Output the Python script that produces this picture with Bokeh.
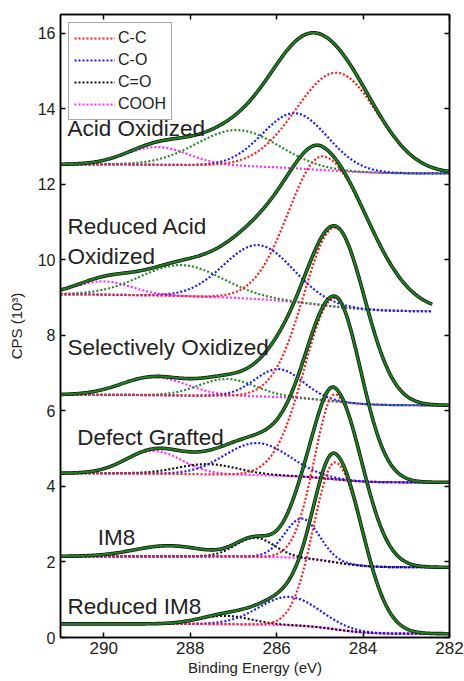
import numpy as np
from bokeh.plotting import figure
from bokeh.models import Range1d, LinearAxis, FixedTicker, Legend, LegendItem, ColumnDataSource
from bokeh.embed import file_html
from bokeh.resources import INLINE
from bokeh.core.properties import value

# ---------------- data ----------------
energy_ticks = [290, 288, 286, 284, 282]
cps_ticks = [0, 2, 4, 6, 8, 10, 12, 14, 16]
components = ["C-C", "C-O", "C=O", "COOH"]
samples = ["Acid Oxidized", "Reduced Acid Oxidized", "Selectively Oxidized",
           "Defect Grafted", "IM8", "Reduced IM8"]
energy_start = [291.0, 291.0, 291.0, 291.0, 291.0, 291.0]
energy_end = [282.0, 282.4, 282.0, 282.0, 282.0, 282.0]
background_high_be = [12.53, 9.09, 6.43, 4.35, 2.15, 0.36]
background_low_be = [12.29, 8.64, 6.15, 4.11, 1.86, 0.10]

# C-C (asymmetric)
cc_center = [284.60, 284.92, 284.64, 284.65, 284.64, 284.64]
cc_height = [2.60, 3.94, 4.60, 4.80, 4.45, 4.42]
cc_width_high = [0.95, 0.80, 0.72, 0.70, 0.48, 0.50]
cc_width_low = [0.93, 1.02, 0.68, 0.60, 0.62, 0.62]
# C-O
co_center = [285.57, 286.42, 285.95, 286.45, 285.41, 285.71]
co_height = [1.46, 1.43, 0.74, 0.85, 1.05, 0.75]
co_width = [0.75, 0.80, 0.55, 0.75, 0.40, 0.70]
# C=O
cdo_center = [286.90, 288.20, 287.15, 287.60, 286.50, 287.20]
cdo_height = [0.95, 0.82, 0.45, 0.27, 0.50, 0.22]
cdo_width = [0.95, 0.95, 0.65, 0.70, 0.45, 0.60]
# COOH
cooh_center = [288.76, 290.00, 288.84, 288.84, 288.60, 288.50]
cooh_height = [0.47, 0.35, 0.48, 0.60, 0.00, 0.00]
cooh_width = [0.72, 0.65, 0.75, 0.65, 0.60, 0.60]
# measured feature not covered by the drawn components
extra_center = [288.5, 288.5, 288.5, 288.5, 288.5, 288.5]
extra_height = [0.0, 0.0, 0.0, 0.0, 0.28, 0.0]
extra_width = [0.8, 0.8, 0.8, 0.8, 0.8, 0.8]

# ---------------- styles / layout ----------------
FONT = "Liberation Sans"
TXT = "#222222"
comp_colors = {"C-C": "#ff1a1a", "C-O": "#1a1aff", "C=O": "#111111", "COOH": "#ff2bff"}
cdo_color_per_sample = ["#2a8a2a", "#2a8a2a", "#2a8a2a", "#111111", "#111111", "#111111"]
ENV_GREEN = "#1e7d1e"

# label positions (data units) and text lines
label_lines = [("Acid Oxidized", 290.84, 13.48),
               ("Reduced Acid", 290.84, 10.88),
               ("Oxidized", 290.84, 10.10),
               ("Selectively Oxidized", 290.84, 7.68),
               ("Defect Grafted", 290.61, 5.30),
               ("IM8", 290.14, 2.65),
               ("Reduced IM8", 290.84, 0.82)]


def peak(x, c, h, s_hi, s_lo):
    s = np.where(x >= c, s_hi, s_lo)
    return h * np.exp(-0.5 * ((x - c) / s) ** 2)


p = figure(width=464, height=681, output_backend="svg", toolbar_location=None,
           x_range=Range1d(291, 282), y_range=Range1d(0, 16.5),
           min_border_left=60, min_border_right=15, min_border_top=14,
           min_border_bottom=44)
p.xgrid.visible = False
p.ygrid.visible = False
p.outline_line_color = "black"
p.outline_line_width = 1.5
p.background_fill_color = "white"
p.border_fill_color = "white"

legend_renderers = {}

for i, name in enumerate(samples):
    x = np.linspace(energy_start[i], energy_end[i], 500)
    comps = [
        ("C-C", peak(x, cc_center[i], cc_height[i], cc_width_high[i], cc_width_low[i])),
        ("C-O", peak(x, co_center[i], co_height[i], co_width[i], co_width[i])),
        ("C=O", peak(x, cdo_center[i], cdo_height[i], cdo_width[i], cdo_width[i])),
        ("COOH", peak(x, cooh_center[i], cooh_height[i], cooh_width[i], cooh_width[i])),
    ]
    total = sum(c[1] for c in comps)
    # Shirley-type background: step follows integrated intensity from low BE side
    xa = x[::-1]
    ta = total[::-1]
    cum = np.concatenate([[0.0], np.cumsum(0.5 * (ta[1:] + ta[:-1]) * np.diff(xa))])
    frac = (cum / cum[-1])[::-1]
    bg = background_low_be[i] + (background_high_be[i] - background_low_be[i]) * frac
    extra = peak(x, extra_center[i], extra_height[i], extra_width[i], extra_width[i])
    envelope = bg + total + extra

    order = ["COOH", "C=O", "C-O", "C-C"]
    cd = dict(comps)
    for cname in order:
        col = comp_colors[cname]
        if cname == "C=O":
            col = cdo_color_per_sample[i]
        r = p.line(x, bg + cd[cname], line_color=col, line_width=2.2, line_dash="2 2")
        if i == len(samples) - 1:
            legend_renderers[cname] = r
    p.line(x, envelope, line_color="#111111", line_width=3.6)
    p.line(x, envelope, line_color=ENV_GREEN, line_width=2.2)

src = ColumnDataSource(dict(t=[l[0] for l in label_lines],
                            x=[l[1] for l in label_lines],
                            y=[l[2] for l in label_lines]))
p.text(x="x", y="y", text="t", source=src, text_font=value(FONT),
       text_font_size="22.5px", text_color=TXT, text_baseline="alphabetic",
       text_align="left")

items = [LegendItem(label=c, renderers=[legend_renderers[c]]) for c in components]
legend = Legend(items=items, location="top_left")
legend.label_text_font = FONT
legend.label_text_font_size = "16px"
legend.label_text_color = TXT
legend.glyph_width = 41
legend.glyph_height = 20
legend.spacing = 2
legend.padding = 5
legend.margin = 8
legend.label_standoff = 3
legend.border_line_color = "#555555"
legend.border_line_width = 1
legend.background_fill_color = "white"
legend.background_fill_alpha = 1.0
p.add_layout(legend)

# axes
for ax in [p.xaxis[0], p.yaxis[0]]:
    ax.major_tick_in = 5
    ax.major_tick_out = 0
    ax.minor_tick_line_color = None
    ax.axis_line_width = 1.5
    ax.major_tick_line_width = 1.5
    ax.major_label_text_font = FONT
    ax.major_label_text_color = TXT
    ax.axis_label_text_font = FONT
    ax.axis_label_text_font_style = "normal"
    ax.axis_label_text_color = TXT
    ax.axis_label_text_font_size = "15px"

p.xaxis[0].ticker = FixedTicker(ticks=energy_ticks)
p.yaxis[0].ticker = FixedTicker(ticks=cps_ticks)
p.xaxis[0].major_label_text_font_size = "17px"
p.yaxis[0].major_label_text_font_size = "16px"
p.xaxis[0].axis_label = "Binding Energy (eV)"
p.yaxis[0].axis_label = "CPS (10³)"
p.xaxis[0].major_label_standoff = 4
p.xaxis[0].axis_label_standoff = 2
p.yaxis[0].major_label_standoff = 5
p.yaxis[0].axis_label_standoff = 10

top = LinearAxis(ticker=FixedTicker(ticks=energy_ticks))
right = LinearAxis(ticker=FixedTicker(ticks=cps_ticks))
for ax in [top, right]:
    ax.major_tick_in = 5
    ax.major_tick_out = 0
    ax.minor_tick_line_color = None
    ax.axis_line_width = 1.5
    ax.major_tick_line_width = 1.5
    ax.major_label_text_color = None
    ax.major_label_text_alpha = 0
    ax.major_label_text_font_size = "1px"
    ax.major_label_standoff = 0
p.add_layout(top, "above")
p.add_layout(right, "right")

open("out.html", "w").write(file_html(p, INLINE))
